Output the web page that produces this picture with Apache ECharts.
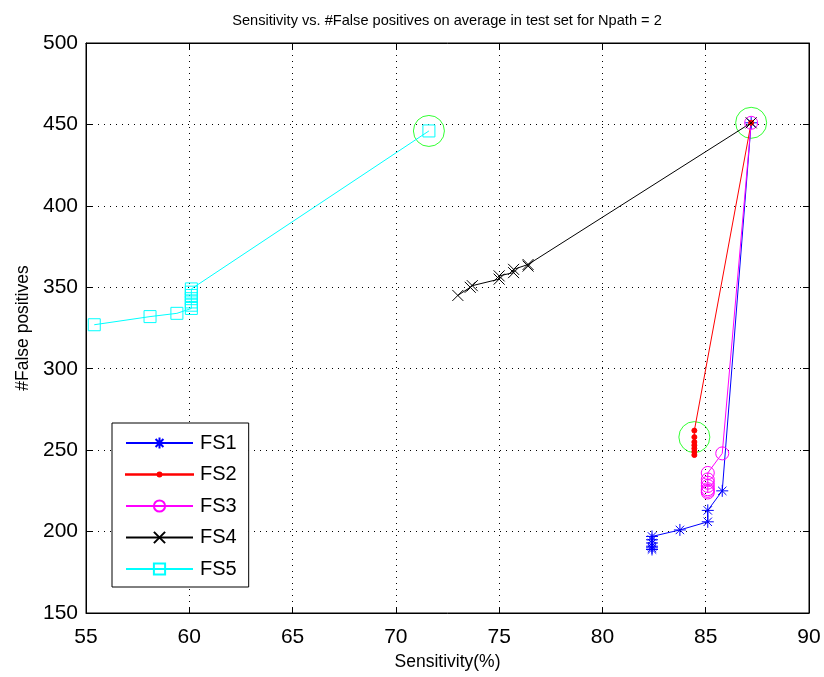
<!DOCTYPE html>
<html><head><meta charset="utf-8">
<script src="https://cdn.jsdelivr.net/npm/echarts@6/dist/echarts.min.js"></script>
<style>html,body{margin:0;padding:0;background:#fff}#c{width:824px;height:677px}</style>
</head><body><div id="c"></div>
<script>
const titleText = 'Sensitivity vs. #False positives on average in test set for Npath = 2';
const xName = 'Sensitivity(%)';
const yName = '#False positives';
const seriesNames = ['FS1','FS2','FS3','FS4','FS5'];
const fs1X = [87.2, 85.8, 85.1, 85.1, 83.75, 82.4, 82.4, 82.4, 82.4, 82.4, 82.4];
const fs1Y = [451, 225, 213, 206, 201, 197, 195, 193, 191, 190, 189];
const fs2X = [87.2, 84.45, 84.45, 84.45, 84.45, 84.45, 84.45, 84.45];
const fs2Y = [451, 262, 258, 255, 253, 251, 249, 247];
const fs3X = [87.2, 85.8, 85.1, 85.1, 85.1, 85.1, 85.1, 85.1, 85.1];
const fs3Y = [451, 248, 236, 232, 230, 228, 226, 225, 224];
const fs4X = [87.2, 76.4, 76.4, 75.7, 75.7, 75.0, 75.0, 73.7, 73.6, 73.0];
const fs4Y = [451, 364, 363, 361, 359, 357, 355, 351, 350, 345];
const fs5X = [71.6, 60.1, 60.1, 60.1, 60.1, 60.1, 60.1, 60.1, 59.4, 58.1, 55.4];
const fs5Y = [446, 349, 347, 345, 343, 341, 339, 337, 334, 332, 327];
const bestX = [87.2, 84.45, 71.6];
const bestY = [451, 258, 446];

const zip = (xs, ys) => xs.map((x, i) => [x, ys[i]]);
const FONT = 'Liberation Sans';
const asterisk = 'path://M5,0L5,10M0,5L10,5M1.5,1.5L8.5,8.5M8.5,1.5L1.5,8.5';
const cross = 'path://M0,0L10,10M10,0L0,10';
const dotLegendIcon = 'path://M0,6.8L67,6.8L67,7.2L0,7.2ZM31.5,7A2,2,0,1,0,35.5,7A2,2,0,1,0,31.5,7Z';

function lineSeries(name, xs, ys, color, symbol, size, filled) {
  return {
    name, type: 'line', data: zip(xs, ys), symbol, symbolSize: size,
    showAllSymbol: true, clip: false, animation: false,
    lineStyle: { color, width: 1 },
    itemStyle: { color: filled ? color : 'rgba(0,0,0,0)', borderColor: color, borderWidth: 1 },
    emphasis: { disabled: true }
  };
}

const tickStyle = { show: true, inside: true, length: 6, lineStyle: { color: '#000' } };
const gridLine = { show: true, lineStyle: { color: '#000', type: [1, 5], width: 1 } };

const chart = echarts.init(document.getElementById('c'));
chart.setOption({
  backgroundColor: '#fff',
  animation: false,
  title: { text: titleText, left: 442, top: 8, textAlign: 'center',
    textStyle: { fontFamily: FONT, fontSize: 14.6, fontWeight: 'normal', color: '#000' } },
  grid: { left: 86, right: 15, top: 43, bottom: 64, show: true, borderColor: '#000', borderWidth: 1 },
  legend: {
    orient: 'vertical', left: 112, top: 423,
    data: ['FS1', { name: 'FS2', icon: dotLegendIcon }, 'FS3', 'FS4', 'FS5'],
    itemWidth: 67, itemHeight: 14, itemGap: 11.5,
    padding: [10, 12, 8, 13],
    borderColor: '#000', borderWidth: 1, backgroundColor: '#fff',
    textStyle: { fontFamily: FONT, fontSize: 20, color: '#000', padding: [0, 0, 0, 2] }
  },
  xAxis: [{
    type: 'value', min: 55, max: 90, interval: 5, position: 'bottom',
    name: xName, nameLocation: 'middle', nameGap: 39,
    nameTextStyle: { fontFamily: FONT, fontSize: 17.5, color: '#000' },
    axisLine: { show: true, lineStyle: { color: '#000' } },
    axisTick: tickStyle,
    axisLabel: { fontFamily: FONT, fontSize: 21, color: '#000', margin: 14 },
    splitLine: gridLine
  }, {
    type: 'value', min: 55, max: 90, interval: 5, position: 'top',
    axisLine: { show: true, lineStyle: { color: '#000' } },
    axisTick: tickStyle,
    axisLabel: { show: false }, splitLine: { show: false }
  }],
  yAxis: [{
    type: 'value', min: 150, max: 500, interval: 50, position: 'left',
    name: yName, nameLocation: 'middle', nameGap: 50, nameRotate: 90,
    nameTextStyle: { fontFamily: FONT, fontSize: 17.5, color: '#000' },
    axisLine: { show: true, lineStyle: { color: '#000' } },
    axisTick: tickStyle,
    axisLabel: { fontFamily: FONT, fontSize: 21, color: '#000', margin: 8 },
    splitLine: gridLine
  }, {
    type: 'value', min: 150, max: 500, interval: 50, position: 'right',
    axisLine: { show: true, lineStyle: { color: '#000' } },
    axisTick: tickStyle,
    axisLabel: { show: false }, splitLine: { show: false }
  }],
  series: [
    lineSeries('FS1', fs1X, fs1Y, '#0000ff', asterisk, 12, false),
    lineSeries('FS2', fs2X, fs2Y, '#ff0000', 'circle', 5, true),
    lineSeries('FS3', fs3X, fs3Y, '#ff00ff', 'circle', 13, false),
    lineSeries('FS4', fs4X, fs4Y, '#000000', cross, 11, false),
    lineSeries('FS5', fs5X, fs5Y, '#00ffff', 'rect', 12, false),
    {
      name: 'best', type: 'scatter', data: zip(bestX, bestY), symbol: 'circle', symbolSize: 31,
      clip: false, animation: false, silent: true,
      itemStyle: { color: 'rgba(0,0,0,0)', borderColor: '#00ff00', borderWidth: 1 }
    }
  ]
});
</script></body></html>
